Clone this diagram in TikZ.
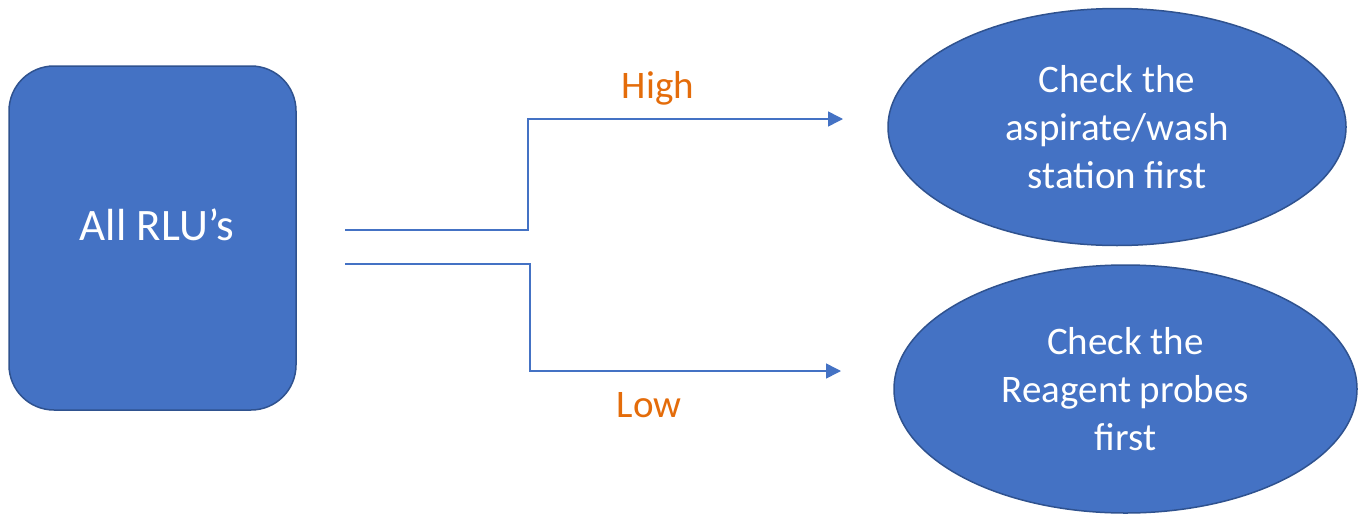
\documentclass[tikz,border=0pt]{standalone}
\usepackage{fontspec}
\setmainfont{Carlito}
\usetikzlibrary{arrows.meta,shapes.geometric}
\definecolor{boxblue}{HTML}{4472C4}
\definecolor{edgeblue}{HTML}{2F528F}
\definecolor{lineblue}{HTML}{4472C4}
\definecolor{tagorange}{HTML}{E46C0A}
\tikzset{
  every node/.style={font=\fontsize{39}{48}\selectfont, inner sep=0pt, outer sep=0pt},
  sourcebox/.style={draw=edgeblue, fill=boxblue, line width=1.5pt, rounded corners=45pt,
    text=white, minimum width=287pt, minimum height=344pt,
    font=\fontsize{45}{54}\selectfont, text height=0pt, text depth=0pt},
  outcome/.style={ellipse, draw=edgeblue, fill=boxblue, line width=1.5pt, text=white,
    align=center},
  branch/.style={draw=lineblue, line width=1.5pt, -{Triangle[length=15pt,width=15pt]}},
  tag/.style={text=tagorange, anchor=base},
}
\begin{document}
\begin{tikzpicture}[x=1pt,y=-1pt]
  \useasboundingbox[fill=white] (0,0) rectangle (1359,514);

  % source box (baseline of its text sits 2pt below the box centre)
  \node[sourcebox] (rlu) at (152.5,238) {\raisebox{-2pt}{\hspace{9pt}All RLU’s}};

  % outcomes
  \node[outcome, minimum width=458pt, minimum height=237pt] (wash) at (1117,127)
    {Check the\\aspirate/wash\\station first};
  \node[outcome, minimum width=463pt, minimum height=248pt] (probe) at (1125.5,389)
    {Check the\\Reagent probes\\first};

  % connector ends
  \coordinate (hs) at (345,230);
  \coordinate (he) at (843,119);
  \coordinate (ls) at (345,264);
  \coordinate (le) at (841,371);

  \draw[branch] (hs) -- (528,230) -- (528,119) -- (he);
  \draw[branch] (ls) -- (530,264) -- (530,371) -- (le);

  % branch labels
  \node[tag] (high) at (658,98) {High};
  \node[tag] (low) at (649,417) {Low};
\end{tikzpicture}
\end{document}
